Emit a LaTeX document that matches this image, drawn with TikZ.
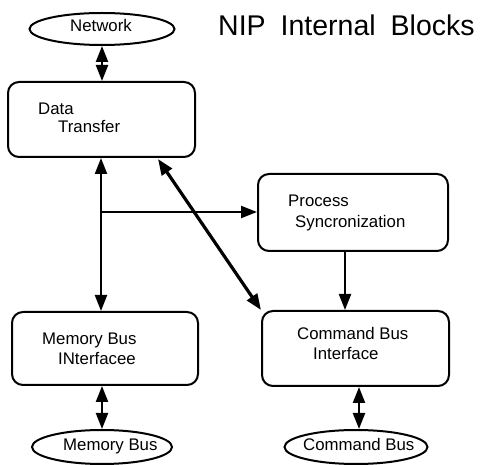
\documentclass[tikz,border=0pt]{standalone}
\usepackage{fontspec}
\setmainfont{Liberation Sans}
\usetikzlibrary{shapes.geometric,arrows.meta,calc}
\tikzset{
  blockbox/.style={draw, line width=2pt, rounded corners=11pt, inner sep=0pt},
  busoval/.style={draw, ellipse, line width=2pt, inner sep=0pt},
  lbl/.style={anchor=mid west, inner sep=0pt, font=\fontsize{16.8}{19}\selectfont},
  link/.style={line width=2.2pt, -{Triangle[length=16pt, width=12pt]}},
  duplex/.style={line width=2.2pt, {Triangle[length=16pt, width=12pt]}-{Triangle[length=16pt, width=12pt]}},
}
\begin{document}
\begin{tikzpicture}[x=1pt, y=-1pt]
\useasboundingbox (0,0) rectangle (480,465);

% title
\node[anchor=mid west, inner sep=0pt, font=\fontsize{28.5}{32}\selectfont] (title) at (218,33)
  {NIP\hspace{15pt}Internal\hspace{15pt}Blocks};

% external buses
\node[busoval, minimum width=145pt, minimum height=32pt] (net) at (102,29) {};
\node[busoval, minimum width=140pt, minimum height=34pt] (mbus) at (102,447) {};
\node[busoval, minimum width=143pt, minimum height=34pt] (cbus) at (356,447) {};
\node[lbl] (netT) at (70,29) {Network};
\node[lbl] (mbusT) at (63,448) {Memory Bus};
\node[lbl] (cbusT) at (303,448) {Command Bus};

% internal blocks
\node[blockbox, minimum width=187pt, minimum height=75pt] (dt) at (101.5,119.5) {};
\node[blockbox, minimum width=190pt, minimum height=77pt] (ps) at (353,212.5) {};
\node[blockbox, minimum width=186pt, minimum height=73pt] (mi) at (105,348.5) {};
\node[blockbox, minimum width=187pt, minimum height=75pt] (ci) at (355.5,348.5) {};

\node[lbl] (dt1) at (38,112) {Data};
\node[lbl] (dt2) at (58,130) {Transfer};
\node[lbl] (ps1) at (288,204) {Process};
\node[lbl] (ps2) at (295,225) {Syncronization};
\node[lbl] (mi1) at (42,342) {Memory Bus};
\node[lbl] (mi2) at (58,362) {INterfacee};
\node[lbl] (ci1) at (297,337) {Command Bus};
\node[lbl] (ci2) at (313,357) {Interface};

% connectors
\draw[duplex] (net.south) -- (net.south |- dt.north);
\draw[duplex] (mbus.north -| 102,0) -- (mi.south -| 102,0);
\draw[duplex] (cbus.north -| 359,0) -- (ci.south -| 359,0);

\draw[duplex] (dt.south -| 101,0) -- (mi.north -| 101,0);
\coordinate (fork) at (101,212);
\draw[link] (fork) -- (fork -| ps.west);
\draw[duplex, line width=3.2pt] ($(dt.south)+(56.5,1)$) -- (ci.north west);
\draw[link] ($(ps.south)+(-8,0)$) -- ($(ps.south |- ci.north)+(-8,0)$);
\end{tikzpicture}
\end{document}
